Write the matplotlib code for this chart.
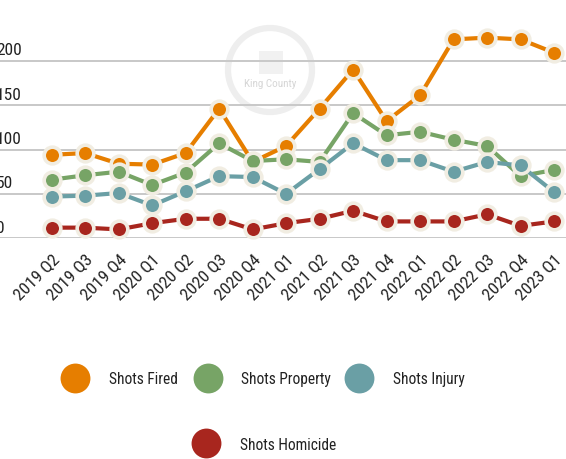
import matplotlib.pyplot as plt
from matplotlib import font_manager
from matplotlib.lines import Line2D
from matplotlib.patches import Ellipse, Rectangle
import matplotlib.transforms as mtransforms

installed = {f.name for f in font_manager.fontManager.ttflist}
candidates = ["Roboto Condensed", "Liberation Sans Narrow", "Open Sans Condensed",
              "Noto Sans Condensed", "Arial Narrow", "Liberation Sans", "DejaVu Sans"]
picked = [f for f in candidates if f in installed]
plt.rcParams['font.family'] = picked + ['DejaVu Sans']

# Quarterly counts
quarters = ["2019 Q2", "2019 Q3", "2019 Q4", "2020 Q1", "2020 Q2", "2020 Q3",
            "2020 Q4", "2021 Q1", "2021 Q2", "2021 Q3", "2021 Q4", "2022 Q1",
            "2022 Q2", "2022 Q3", "2022 Q4", "2023 Q1"]
shots_fired = [94, 96, 84, 83, 96, 146, 86, 104, 146, 190, 132, 161, 224, 226, 224, 209]
shots_property = [66, 71, 75, 60, 74, 107, 87, 89, 86, 141, 116, 120, 111, 104, 70, 77]
shots_injury = [47, 48, 51, 37, 53, 70, 69, 50, 78, 107, 88, 88, 75, 86, 82, 52]
shots_homicide = [12, 12, 10, 17, 22, 22, 10, 17, 22, 31, 19, 19, 19, 27, 14, 19]

series_names = ["Shots Fired", "Shots Property", "Shots Injury", "Shots Homicide"]
series_values = [shots_fired, shots_property, shots_injury, shots_homicide]
colors = ["#e67e00", "#77a466", "#6a9fa5", "#a8261e"]
y_ticks = [0, 50, 100, 150, 200]

W, H = 566, 460
fig = plt.figure(figsize=(W / 100, H / 100), dpi=100)
ink = "#222222"

# axes placed in pixel terms: 0 -> y=239.3px, 200 -> y=61.7px from top
y0_px, y200_px = 239.3, 61.7
ppu = (y0_px - y200_px) / 200
ytop = 250
ax = fig.add_axes([0, (H - y0_px) / H, 1, ytop * ppu / H])
ax.patch.set_visible(False)

x = list(range(len(quarters)))
first_px, step_px = 51.7, 33.49
ax.set_xlim(-first_px / step_px, (W - first_px) / step_px)
ax.set_ylim(0, ytop)

for name, vals, c in zip(series_names, series_values, colors):
    ax.plot(x, vals, color=c, lw=3.0, marker='o', ms=12, mfc=c,
            mec="#f1ede2", mew=2.6, clip_on=False, zorder=3, label=name)

ax.set_yticks(y_ticks)
ax.set_yticklabels([])
ax.tick_params(axis='y', length=0)
ax.grid(axis='y', color="#c8c8c8", lw=1.4, zorder=0)
for s in ax.spines.values():
    s.set_visible(False)

# y labels sit above the gridlines, partly cut off at the left edge
trans = mtransforms.blended_transform_factory(ax.transAxes, ax.transData)
for t in y_ticks:
    ax.text(-4 / W, t + 6.5 / ppu, str(t), transform=trans, ha='left',
            va='baseline', fontsize=12.5, color=ink)

ax.set_xticks(x)
ax.set_xticklabels(quarters, rotation=45, ha='right', rotation_mode='anchor',
                   fontsize=12.5, color=ink)
ax.tick_params(axis='x', length=0, pad=9)

# faint watermark behind the chart
ring = Ellipse((270 / W, 1 - 71 / H), 84 / W, 84 / H, transform=fig.transFigure,
               fill=False, ec="#eeeeee", lw=4.5, zorder=-1)
fig.patches.append(ring)
logo = Rectangle((259 / W, 1 - 75 / H), 24 / W, 23 / H, transform=fig.transFigure,
                 fc="#f1f1f1", ec='none', zorder=-1)
fig.patches.append(logo)
fig.text(270 / W, 1 - 84 / H, "King County", ha='center', va='center',
         fontsize=8, color="#d6d6d6", zorder=-1)

legend_marker_x = [75, 207.7, 359, 205.7]
legend_text_x = [109, 241, 393, 240]
legend_y = [378.5, 378.5, 378.5, 444]
for name, c, mx, tx, ly in zip(series_names, colors, legend_marker_x,
                               legend_text_x, legend_y):
    fig.add_artist(Line2D([mx / W], [1 - ly / H], transform=fig.transFigure,
                          ls='none', marker='o', ms=21.5, mfc=c, mec='none'))
    fig.text(tx / W, 1 - (ly + 6) / H, name, ha='left', va='baseline',
             fontsize=11.2, color=ink)

fig.savefig("out.png", dpi=100)
